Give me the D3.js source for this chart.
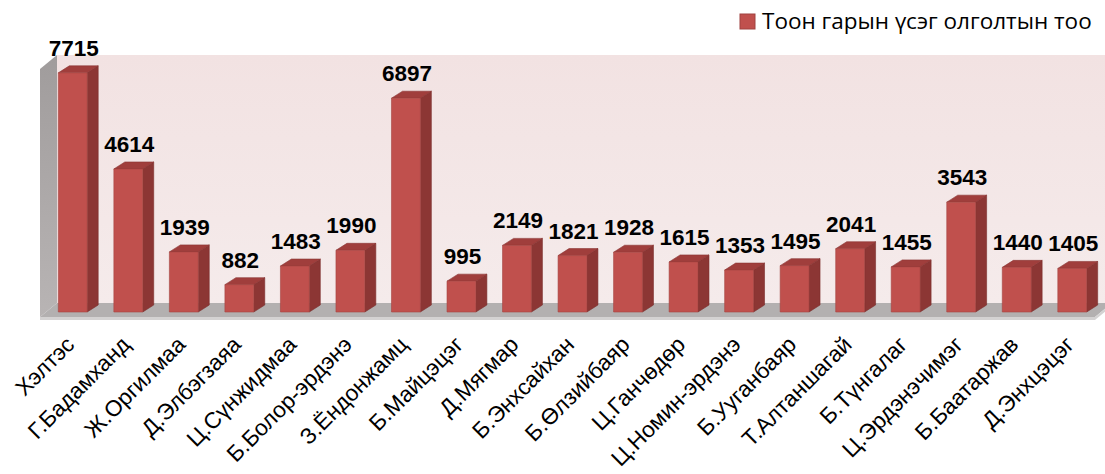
<!DOCTYPE html>
<html>
<head>
<meta charset="utf-8">
<script src="https://cdn.jsdelivr.net/npm/d3@7/dist/d3.min.js"></script>
<style>
  body { margin: 0; background: #fff; }
  svg { display: block; }
</style>
</head>
<body>
<svg width="1105" height="474"></svg>
<script>
var names = ["Хэлтэс", "Г.Бадамханд", "Ж.Оргилмаа", "Д.Элбэгзаяа", "Ц.Сүнжидмаа",
  "Б.Болор-эрдэнэ", "З.Ёндонжамц", "Б.Майцэцэг", "Д.Мягмар", "Б.Энхсайхан",
  "Б.Өлзийбаяр", "Ц.Ганчөдөр", "Ц.Номин-эрдэнэ", "Б.Ууганбаяр", "Т.Алтаншагай",
  "Б.Түнгалаг", "Ц.Эрдэнэчимэг", "Б.Баатаржав", "Д.Энхцэцэг"];
var values = [7715, 4614, 1939, 882, 1483, 1990, 6897, 995, 2149, 1821,
  1928, 1615, 1353, 1495, 2041, 1455, 3543, 1440, 1405];
var seriesName = "Тоон гарын үсэг олголтын тоо";

var svg = d3.select("svg");
var font = "'Liberation Sans', Arial, sans-serif";

// front plane of the plot
var x0 = 40, x1 = 1095, yBase = 317, yTop = 69;
var depthX = 17, depthY = -14;   // wall depth
var barShiftX = 5, barShiftY = -5; // bar front plane inside the floor
var barDX = 11, barDY = -7;      // bar depth

var x = d3.scaleBand().domain(names).range([x0, x1]).padding(0);
var y = d3.scaleLinear().domain([0, 8000]).range([yBase, yTop]);
var bw = x.step() * 0.52;

var defs = svg.append("defs");
var wallGrad = defs.append("linearGradient").attr("id", "wall")
    .attr("x1", 0).attr("y1", 0).attr("x2", 0).attr("y2", 1);
wallGrad.append("stop").attr("offset", 0).attr("stop-color", "#f2e2e2");
wallGrad.append("stop").attr("offset", 1).attr("stop-color", "#f5ebeb");
var sideGrad = defs.append("linearGradient").attr("id", "side")
    .attr("x1", 0).attr("y1", 0).attr("x2", 0).attr("y2", 1);
sideGrad.append("stop").attr("offset", 0).attr("stop-color", "#a09c9c");
sideGrad.append("stop").attr("offset", 1).attr("stop-color", "#b8b4b4");

function poly(pts) { return "M" + pts.map(function(p) { return p.join(","); }).join("L") + "Z"; }

// back wall
svg.append("path")
    .attr("d", poly([[x0 + depthX, y(0) + depthY], [x0 + depthX, y(8000) + depthY],
                     [x1 + depthX + 20, y(8000) + depthY], [x1 + depthX + 20, y(0) + depthY]]))
    .attr("fill", "url(#wall)");

// side wall
svg.append("path")
    .attr("d", poly([[x0, y(0)], [x0, y(8000)], [x0 + depthX, y(8000) + depthY], [x0 + depthX, y(0) + depthY]]))
    .attr("fill", "url(#side)");

// floor
svg.append("path")
    .attr("d", poly([[x0, y(0)], [x1, y(0)], [x1 + depthX, y(0) + depthY], [x0 + depthX, y(0) + depthY]]))
    .attr("fill", "#b3b0b0");
svg.append("path")
    .attr("d", poly([[x0, y(0)], [x1, y(0)], [x1, y(0) + 3], [x0, y(0) + 3]]))
    .attr("fill", "#d4d2d2");
svg.append("path")
    .attr("d", poly([[x1, y(0)], [x1 + depthX, y(0) + depthY], [x1 + depthX, y(0) + depthY + 3], [x1, y(0) + 3]]))
    .attr("fill", "#d4d2d2");

var bars = svg.append("g").selectAll("g")
    .data(values)
    .join("g");

function bx(i) { return x(names[i]) + (x.step() - bw) / 2 + barShiftX; }

bars.append("path") // side
    .attr("d", function(d, i) {
      var l = bx(i) + bw, t = y(d) + barShiftY, b = y(0) + barShiftY;
      return poly([[l, b], [l, t], [l + barDX, t + barDY], [l + barDX, b + barDY]]);
    })
    .attr("fill", "#8c3634").attr("stroke", "#7a2e2c").attr("stroke-width", 0.6);

bars.append("path") // top
    .attr("d", function(d, i) {
      var l = bx(i), t = y(d) + barShiftY;
      return poly([[l, t], [l + bw, t], [l + bw + barDX, t + barDY], [l + barDX, t + barDY]]);
    })
    .attr("fill", "#a03e3c").attr("stroke", "#8a3432").attr("stroke-width", 0.6);

bars.append("path") // front
    .attr("d", function(d, i) {
      var l = bx(i), t = y(d) + barShiftY, b = y(0) + barShiftY;
      return poly([[l, b], [l, t], [l + bw, t], [l + bw, b]]);
    })
    .attr("fill", "#c0504d").attr("stroke", "#a54441").attr("stroke-width", 0.6);

bars.append("text")
    .attr("x", function(d, i) { return bx(i) + bw / 2 + 1; })
    .attr("y", function(d) { return y(d) + barShiftY + barDY - 10; })
    .attr("text-anchor", "middle")
    .attr("font-family", font).attr("font-weight", "bold").attr("font-size", 22.5)
    .attr("fill", "#000")
    .text(function(d) { return d; });

// category labels
svg.append("g").selectAll("text")
    .data(names)
    .join("text")
    .attr("transform", function(d) {
      return "translate(" + (x(d) + x.step() / 2 + 8) + "," + 346 + ") rotate(-45)";
    })
    .attr("text-anchor", "end")
    .attr("font-family", font).attr("font-size", 22.5)
    .attr("fill", "#000")
    .text(function(d) { return d; });

// legend
var legend = svg.append("g").attr("transform", "translate(740,14)");
legend.append("rect").attr("width", 15).attr("height", 15)
    .attr("fill", "#c0504d").attr("stroke", "#a04240").attr("stroke-width", 1);
legend.append("text").attr("x", 22).attr("y", 15)
    .attr("font-family", "'Open Sans', 'Liberation Sans', sans-serif").attr("font-size", 22.5)
    .attr("fill", "#000")
    .text(seriesName);
</script>
</body>
</html>
